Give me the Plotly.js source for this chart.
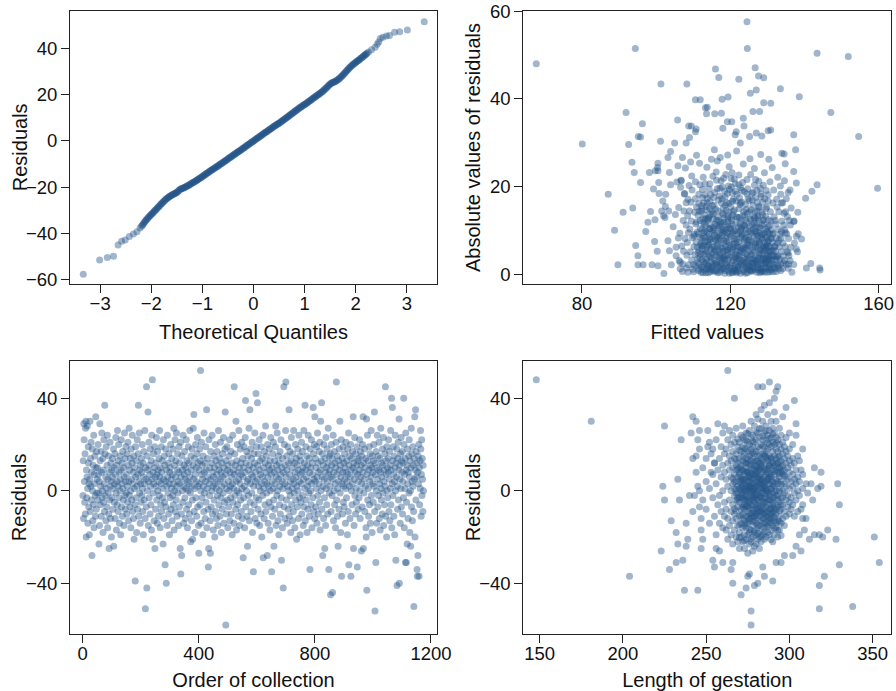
<!DOCTYPE html>
<html><head><meta charset="utf-8">
<script src="https://cdn.plot.ly/plotly-3.0.1.min.js"></script>
<style>html,body{margin:0;padding:0;background:#fff}#chart{width:896px;height:691px}</style>
</head><body><div id="chart"></div><script>
// Normal Q-Q plot: [theoretical quantile, residual]
const qqPoints = [[-3.33,-57.6],[-3.01,-51.4],[-2.86,-50.4],[-2.74,-49.8],[-2.65,-44.9],[-2.58,-43.3],[-2.51,-42.8],[-2.43,-41.3],[-2.35,-40.2],[-2.28,-39.2],[-2.22,-37.6],
[-2.19,-36.8],[-2.16,-36.0],[-2.13,-35.0],[-2.10,-34.2],[-2.07,-33.4],[-2.04,-32.6],[-2.01,-32.0],[-1.98,-31.3],[-1.95,-30.6],[-1.92,-29.9],[-1.89,-29.2],[-1.86,-28.5],[-1.83,-27.8],[-1.80,-27.1],[-1.77,-26.4],[-1.74,-25.8],[-1.71,-25.1],[-1.68,-24.6],[-1.65,-24.1],[-1.62,-23.7],[-1.59,-23.3],[-1.56,-22.9],[-1.53,-22.6],[-1.50,-22.3],[-1.47,-21.6],[-1.44,-21.0],[-1.41,-20.7],[-1.38,-20.4],[-1.35,-20.1],[-1.32,-19.8],[-1.29,-19.4],[-1.26,-19.0],[-1.23,-18.6],[-1.20,-18.2],[-1.17,-17.8],[-1.14,-17.4],[-1.11,-17.0],[-1.08,-16.6],[-1.05,-16.1],[-1.02,-15.7],[-0.99,-15.2],[-0.96,-14.7],[-0.93,-14.3],[-0.90,-13.8],[-0.87,-13.3],[-0.84,-12.9],[-0.81,-12.4],[-0.78,-12.0],[-0.75,-11.6],[-0.72,-11.1],[-0.69,-10.7],[-0.66,-10.2],[-0.63,-9.8],[-0.60,-9.3],[-0.57,-8.9],[-0.54,-8.4],[-0.51,-7.9],[-0.48,-7.4],[-0.45,-7.0],[-0.42,-6.5],[-0.39,-6.1],[-0.36,-5.6],[-0.33,-5.1],[-0.30,-4.7],[-0.27,-4.2],[-0.24,-3.8],[-0.21,-3.3],[-0.18,-2.8],[-0.15,-2.3],[-0.12,-1.9],[-0.09,-1.4],[-0.06,-0.9],[-0.03,-0.5],[0,0],[0.03,0.5],[0.06,1.0],[0.09,1.4],[0.12,1.9],[0.15,2.4],[0.18,2.9],[0.21,3.3],[0.24,3.8],[0.27,4.2],[0.30,4.7],[0.33,5.2],[0.36,5.6],[0.39,6.1],[0.42,6.6],[0.45,7.0],[0.48,7.4],[0.51,7.8],[0.54,8.3],[0.57,8.8],[0.60,9.3],[0.63,9.8],[0.66,10.3],[0.69,10.8],[0.72,11.3],[0.75,11.8],[0.78,12.3],[0.81,12.8],[0.84,13.3],[0.87,13.8],[0.90,14.3],[0.93,14.7],[0.96,15.2],[0.99,15.6],[1.02,16.0],[1.05,16.5],[1.08,17.0],[1.11,17.5],[1.14,18.0],[1.17,18.5],[1.20,19.0],[1.23,19.4],[1.26,19.9],[1.29,20.4],[1.32,20.9],[1.35,21.4],[1.38,22.0],[1.41,22.6],[1.44,23.3],[1.47,24.0],[1.50,24.6],[1.53,25.0],[1.56,25.3],[1.59,25.6],[1.62,26.0],[1.65,26.5],[1.68,27.0],[1.71,27.6],[1.74,28.3],[1.77,29.0],[1.80,29.7],[1.83,30.5],[1.86,31.2],[1.89,31.9],[1.92,32.5],[1.95,33.1],[1.98,33.6],[2.01,34.1],[2.04,34.6],[2.07,35.1],[2.10,35.7],[2.13,36.2],[2.16,36.8],[2.19,37.3],[2.22,37.9],
[-2.175,-36.4],[-2.145,-35.5],[-2.115,-34.6],[-2.085,-33.8],[-2.055,-33.0],[-2.025,-32.3],[-1.995,-31.6],[-1.965,-31.0],[-1.935,-30.2],[-1.905,-29.6],[-1.875,-28.8],[-1.845,-28.2],[-1.815,-27.4],[-1.785,-26.8],[-1.755,-26.1],[-1.725,-25.4],[-1.695,-24.9],[-1.665,-24.3],[-1.635,-23.9],[-1.605,-23.5],[-1.575,-23.1],[-1.545,-22.8],[-1.515,-22.4],[-1.485,-21.9],[-1.455,-21.3],[-1.425,-20.8],[-1.395,-20.6],[-1.365,-20.2],[-1.335,-19.9],[-1.305,-19.6],[-1.275,-19.2],[-1.245,-18.8],[-1.215,-18.4],[-1.185,-18.0],[-1.155,-17.6],[-1.125,-17.2],[-1.095,-16.8],[-1.065,-16.3],[-1.035,-15.9],[-1.005,-15.5],[-0.975,-15.0],[-0.945,-14.5],[-0.915,-14.0],[-0.885,-13.6],[-0.855,-13.1],[-0.825,-12.7],[-0.795,-12.2],[-0.765,-11.8],[-0.735,-11.3],[-0.705,-10.9],[-0.675,-10.5],[-0.645,-10.0],[-0.615,-9.6],[-0.585,-9.1],[-0.555,-8.6],[-0.525,-8.2],[-0.495,-7.7],[-0.465,-7.2],[-0.435,-6.8],[-0.405,-6.3],[-0.375,-5.8],[-0.345,-5.4],[-0.315,-4.9],[-0.285,-4.5],[-0.255,-4.0],[-0.225,-3.5],[-0.195,-3.1],[-0.165,-2.6],[-0.135,-2.1],[-0.105,-1.6],[-0.075,-1.2],[-0.045,-0.7],[-0.015,-0.2],[0.015,0.2],[0.045,0.7],[0.075,1.2],[0.105,1.7],[0.135,2.1],[0.165,2.6],[0.195,3.1],[0.225,3.6],[0.255,4.0],[0.285,4.5],[0.315,4.9],[0.345,5.4],[0.375,5.9],[0.405,6.3],[0.435,6.8],[0.465,7.2],[0.495,7.6],[0.525,8.1],[0.555,8.6],[0.585,9.0],[0.615,9.6],[0.645,10.0],[0.675,10.5],[0.705,11.0],[0.735,11.5],[0.765,12.0],[0.795,12.5],[0.825,13.0],[0.855,13.5],[0.885,14.0],[0.915,14.5],[0.945,14.9],[0.975,15.4],[1.005,15.8],[1.035,16.3],[1.065,16.7],[1.095,17.2],[1.125,17.7],[1.155,18.2],[1.185,18.7],[1.215,19.2],[1.245,19.7],[1.275,20.1],[1.305,20.6],[1.335,21.1],[1.365,21.7],[1.395,22.3],[1.425,22.9],[1.455,23.6],[1.485,24.3],[1.515,24.8],[1.545,25.2],[1.575,25.5],[1.605,25.8],[1.635,26.2],[1.665,26.7],[1.695,27.3],[1.725,27.9],[1.755,28.6],[1.785,29.3],[1.815,30.1],[1.845,30.8],[1.875,31.5],[1.905,32.2],[1.935,32.8],[1.965,33.3],[1.995,33.9],[2.025,34.4],[2.055,34.9],[2.085,35.4],[2.115,35.9],[2.145,36.5],[2.175,37.0],[2.205,37.6],
[2.25,38.4],[2.31,39.4],[2.38,40.5],[2.42,41.8],[2.45,42.7],[2.48,44.2],[2.53,44.8],[2.60,45.3],[2.66,45.6],[2.76,46.9],[2.86,47.2],[3.01,47.9],[3.34,51.5]];

// [fitted value, |residual|]
const fittedAbsPoints = [[67.7,48.0],[94.4,51.5],[80.1,29.7],[124.5,57.6],[124.6,51.5],[143.4,50.4],[151.8,49.7],[147.1,36.9],[154.6,31.4],[159.7,19.6],[138.6,40.5],[133.5,42.3],[116.0,46.8],[116.9,44.9],[122.3,44.5],[126.7,47.1],[127.6,45.2],[129.0,44.8],[101.3,43.4],[108.3,43.4],[91.9,36.9],[96.3,34.3],[95.8,31.3],[95.2,31.4],[92.6,29.6],[93.5,25.5],[94.1,23.2],[95.8,20.9],[98.2,23.2],[87.1,18.2],[91.1,14.1],[93.7,15.1],[88.8,10.0],[89.7,2.1],[95.1,2.1],[95.1,4.2],[94.5,6.5],[97.2,9.7],[97.8,11.8],[98.5,14.3],[99.3,19.4],[98.9,2.1],[100.5,1.9],[102.1,0.1],[100.3,5.2],[99.6,7.4],[99.7,12.4],[100.5,23.6],[100.5,25.3],[101.2,30.3],[102.0,13.3],[102.5,15.4],[102.6,18.2],[103.9,20.4],[103.9,28.0],[105.0,29.9],[105.8,35.2],[108.1,29.9],[108.8,33.8],[110.6,32.5],[110.6,39.8],[111.9,39.8],[113.8,38.1],[113.6,36.6],[115.8,36.6],[117.6,36.7],[117.8,39.9],[119.4,40.4],[118.0,33.3],[119.2,34.8],[120.4,34.8],[121.6,32.5],[123.5,35.6],[123.7,33.8],[122.7,29.9],[121.3,31.8],[125.4,41.3],[127.0,42.0],[126.1,37.1],[127.9,37.1],[129.0,39.1],[130.9,39.0],[130.2,32.7],[130.9,32.9],[127.0,32.2],[128.5,31.5],[125.2,31.4],[137.1,31.8],[137.6,28.4],[137.8,20.8],[134.8,25.2],[137.1,23.4],[133.9,27.6],[134.5,27.4],[135.6,18.6],[137.1,12.0],[134.8,9.4],[137.8,8.6],[139.2,8.0],[137.8,5.7],[135.7,2.3],[136.6,0.4],[140.3,17.3],[142.0,18.9],[143.4,20.4],[140.5,1.4],[141.7,2.4],[144.1,1.4],[144.2,0.9],[133.8,16.2],[134.5,13.9],[133.8,9.7],[132.4,4.0],[132.9,1.9],[135.6,4.8],
[96.5,2.1],[100.4,24.3],[99.8,23.6],[103.2,26.6],[103.6,23.2],[100.7,20.9],[100.8,18.4],[101.8,16.7],[101.5,14.4],[102.4,12.9],[103.4,14.4],[103.2,7.6],[103.6,5.3],[105.4,6.1],[105.4,4.2],[106.5,2.7],[106.8,21.3],[105.9,24.7],[107.1,26.6],[109.0,31.2],[109.5,33.8],[110.8,33.1],[113.3,38.0],[105.6,21.0],[106.6,19.8],[107.7,18.4],[108.1,16.3],[109.0,14.4],[104.6,10.8],[105.2,13.6],[104.1,2.1],[106.0,8.2],
[106.2,3.1],[106.4,9.3],[106.1,15.2],[106.7,21.4],[106.5,1.2],[106.9,6.4],[107.3,12.2],[107.1,0.6],[107.6,18.3],[107.2,2.3],[107.8,8.1],[107.5,14.4],[107.9,24.2],[107.4,5.2],[108.3,4.3],[108.1,11.2],[108.6,17.1],[108.2,1.4],[108.4,7.2],[108.8,2.1],[108.5,13.3],[108.9,20.2],[108.7,9.4],[108.6,0.4],[109.2,5.1],[109.1,10.3],[109.4,16.4],[109.3,25.6],[109.6,3.2],[109.8,8.3],[109.5,12.1],[109.7,19.2],[109.9,1.1],[109.6,22.4],[110.2,6.2],[110.1,2.2],[110.4,14.1],[110.3,9.1],[110.6,17.2],[110.1,0.5],[110.5,4.4],[110.8,7.3],[110.7,11.4],[110.9,15.3],[110.6,21.1],[110.9,27.1],[111.2,2.6],[111.1,6.1],[111.4,9.2],[111.3,13.4],[111.5,18.2],[111.2,3.5],[111.7,1.1],[111.6,5.3],[111.8,8.4],[111.9,12.2],[111.5,16.1],[111.8,20.4],[111.7,25.3],[112.1,0.4],[112.3,3.3],[112.2,7.1],[112.4,10.2],[112.1,14.3],[112.5,17.4],[112.3,15.6],[112.6,1.6],[112.8,4.4],[112.7,6.5],[112.9,9.4],[112.6,12.6],[112.8,16.2],[112.5,19.3],[112.7,22.1],[113.1,2.4],[113.3,5.4],[113.2,8.3],[113.4,11.1],[113.1,13.5],[113.5,15.4],[113.2,18.1],[113.4,0.3],[113.6,3.4],[113.8,6.2],[113.7,9.6],[113.9,12.4],[113.6,14.6],[113.8,17.3],[113.7,24.4],[114.1,1.3],[114.3,4.1],[114.2,6.6],[114.4,10.4],[114.1,12.7],[114.5,16.6],[114.3,19.4],[114.6,0.5],[114.8,2.7],[114.7,5.6],[114.9,8.1],[114.6,11.3],[114.8,13.6],[114.5,20.6],[114.9,26.2],[115.2,1.7],[115.1,4.6],[115.4,7.4],[115.3,9.8],[115.1,14.2],[115.5,17.5],[115.3,22.3],[115.6,0.8],[115.8,3.2],[115.7,6.3],[115.9,11.5],[115.6,15.7],[115.8,18.6],[115.7,28.4],[116.2,2.1],[116.1,5.2],[116.4,8.5],[116.3,12.3],[116.1,14.8],[116.5,19.5],[116.2,23.3],[116.6,0.3],[116.8,3.9],[116.7,7.7],[116.9,10.6],[116.6,13.1],[116.8,16.9],[116.5,25.8],[117.1,1.5],[117.3,4.8],[117.2,9.2],[117.4,11.9],[117.1,17.8],[117.5,21.3],[117.3,26.6],[117.6,2.6],[117.8,5.9],[117.7,8.8],[117.9,13.9],[117.6,16.2],[117.8,19.9],[117.5,0.9],[118.1,3.6],[118.3,6.9],[118.2,10.1],[118.4,12.8],[118.1,15.1],[118.5,18.9],[118.2,1.2],[118.6,4.2],[118.8,8.1],[118.7,11.3],[118.9,14.5],[118.6,17.6],[118.8,22.7],[118.5,0.2],[119.1,2.3],[119.3,5.6],[119.2,9.4],[119.4,13.2],[119.1,16.3],[119.5,20.1],[119.3,27.2],[119.6,0.7],[119.8,3.8],[119.7,7.2],[119.9,10.5],[119.6,14.1],[119.8,19.3],[119.7,24.5],[120.1,1.9],[120.3,5.1],[120.2,8.6],[120.4,12.2],[120.1,15.4],[120.5,18.5],[120.2,21.8],[120.6,0.4],[120.8,3.1],[120.7,6.8],[120.9,9.9],[120.6,13.5],[120.8,17.1],[120.5,23.1],[121.1,1.3],[121.3,4.5],[121.2,7.9],[121.4,11.4],[121.1,14.6],[121.5,16.7],[121.3,20.6],[121.6,2.8],[121.8,6.1],[121.7,9.2],[121.9,12.9],[121.6,0.6],[121.8,18.2],[121.7,28.1],[122.1,3.5],[122.3,7.3],[122.2,10.7],[122.4,14.9],[122.1,1.6],[122.5,17.4],[122.3,22.6],[122.6,4.9],[122.8,8.4],[122.7,0.2],[122.9,12.1],[122.6,15.8],[122.8,19.7],[123.1,2.2],[123.3,5.8],[123.2,9.1],[123.4,13.4],[123.1,16.4],[123.5,25.1],[123.3,20.9],[123.6,0.9],[123.8,3.7],[123.7,7.5],[123.9,10.9],[123.6,14.3],[123.8,18.8],[124.1,1.4],[124.3,4.6],[124.2,8.2],[124.4,11.7],[124.1,15.9],[124.5,21.6],[124.6,0.3],[124.8,2.9],[124.7,6.4],[124.9,9.6],[124.6,13.8],[124.8,17.2],[124.7,19.5],[125.1,1.8],[125.3,5.2],[125.2,7.8],[125.4,12.6],[125.1,16.8],[125.5,22.7],[125.3,26.3],[125.6,0.6],[125.8,3.4],[125.7,9.3],[125.9,11.2],[125.6,14.7],[125.8,18.4],[126.1,2.5],[126.3,6.6],[126.2,10.2],[126.4,13.1],[126.1,15.7],[126.5,20.3],[126.6,1.1],[126.8,4.1],[126.7,7.1],[126.9,9.8],[126.6,14.2],[126.8,17.5],[126.5,24.1],[127.1,0.4],[127.3,3.2],[127.2,6.2],[127.4,8.7],[127.1,11.6],[127.5,13.3],[127.3,16.4],[127.2,19.1],[127.6,2.1],[127.8,4.8],[127.7,7.4],[127.9,9.4],[127.6,12.3],[127.8,15.2],[127.7,21.2],[128.1,1.2],[128.3,3.6],[128.2,5.4],[128.4,8.3],[128.1,10.5],[128.5,14.1],[128.3,18.3],[128.2,27.3],[128.6,0.5],[128.8,2.4],[128.7,4.4],[128.9,6.3],[128.6,9.1],[128.8,12.2],[128.7,16.4],[128.9,20.3],[129.1,1.3],[129.3,3.3],[129.2,5.3],[129.4,7.1],[129.1,11.4],[129.5,13.2],[129.3,17.2],[129.2,23.1],[129.6,2.3],[129.8,4.3],[129.7,6.4],[129.9,8.4],[129.6,10.3],[129.8,15.3],[129.7,19.1],[130.1,0.4],[130.3,1.4],[130.2,3.4],[130.4,5.1],[130.1,7.3],[130.5,9.2],[130.3,12.4],[130.2,18.1],[130.4,26.2],[130.6,2.2],[130.8,4.1],[130.7,6.2],[130.9,8.2],[130.6,11.1],[130.8,14.2],[130.7,21.1],[131.1,1.1],[131.3,3.1],[131.2,5.3],[131.4,7.2],[131.1,10.1],[131.5,16.2],[131.3,24.3],[131.6,0.5],[131.8,2.2],[131.7,4.1],[131.9,6.2],[131.6,9.3],[131.8,13.1],[131.7,19.2],[132.1,1.2],[132.3,3.3],[132.2,5.2],[132.4,8.1],[132.1,12.2],[132.5,17.1],[132.6,2.1],[132.8,4.2],[132.7,7.1],[132.9,10.2],[132.6,15.3],[132.8,22.1],[133.1,1.3],[133.3,3.4],[133.2,6.2],[133.4,9.1],[133.1,14.2],[133.5,20.1],[133.6,2.3],[133.8,5.1],[133.7,8.2],[133.9,12.1],[133.6,18.2],[134.1,1.2],[134.3,4.1],[134.2,7.1],[134.4,11.2],[134.1,16.3],[134.6,3.1],[134.8,6.2],[134.7,10.1],[134.9,14.2],[134.6,21.3],[135.1,2.2],[135.3,5.1],[135.2,9.2],[135.4,13.1],[135.1,17.2],[135.6,1.3],[135.8,4.2],[135.7,8.1],[135.9,12.2],[136.1,3.1],[136.3,6.1],[136.2,11.2],[136.4,15.1],[136.1,19.2],[137.1,2.2],[137.3,7.1],[137.2,12.1],[138.1,5.1],[138.3,9.2],[138.2,14.1],
[111.4,0.8],[112.9,2.9],[114.2,1.9],[113.3,4.7],[115.8,0.6],[116.4,2.7],[117.9,1.3],[118.3,3.9],[119.7,0.2],[120.4,2.6],[121.9,1.1],[122.4,3.4],[123.6,0.5],[124.9,2.1],[125.3,0.9],[126.7,3.1],[127.4,1.6],[128.9,0.7],[129.5,2.8],[130.6,0.9],[131.2,2.4],[112.4,5.8],[113.9,7.4],[115.1,6.1],[116.9,5.4],[117.3,7.9],[118.8,6.3],[119.1,8.6],[120.7,5.6],[121.5,7.1],[122.9,6.2],[123.2,8.8],[124.4,5.9],[125.8,7.3],[126.2,5.1],[127.9,6.8],[128.4,8.9],[129.1,6.1],[130.3,7.7],[131.6,5.5],[111.1,9.6],[112.7,11.8],[114.6,10.3],[115.4,12.6],[116.1,9.3],[117.6,11.4],[118.1,13.6],[119.5,10.9],[120.2,12.8],[121.3,9.9],[122.6,11.6],[123.9,13.2],[124.2,10.2],[125.6,12.4],[126.9,10.8],[127.3,12.9],[128.6,11.1],[129.8,9.7],[130.9,12.1],[113.6,1.2],[114.9,3.6],[116.2,4.2],[117.4,2.2],[118.9,1.7],[119.3,4.4],[120.9,0.7],[121.2,3.9],[122.1,1.9],[123.4,4.9],[124.7,1.2],[125.1,3.8],[126.3,1.4],[127.6,3.7],[128.2,2.2],[129.9,4.8],[130.1,2.9],[111.8,3.8],[112.2,1.6],[113.1,9.8],[114.4,8.4],[115.7,8.9],[116.6,6.9],[117.1,4.3],[118.4,9.7],[119.9,6.6],[120.1,10.3],[121.7,5.3],[122.2,9.2],[123.8,7.9],[124.6,6.8],[125.4,9.8],[126.5,8.6],[127.1,9.2],[128.8,5.8],[129.4,8.2],[130.7,5.2],[112.3,14.8],[113.8,16.2],[115.2,15.6],[116.7,14.4],[117.8,17.2],[118.6,15.7],[119.2,18.4],[120.6,16.6],[121.4,18.9],[122.7,16.3],[123.1,19.1],[124.3,14.8],[125.9,16.9],[126.1,18.7],[127.7,15.4],[128.3,17.7],[129.6,14.9],[113.2,20.6],[114.7,18.1],[116.3,21.4],[117.2,19.6],[118.2,21.9],[119.6,16.1],[120.3,19.9],[121.1,21.7],[122.3,20.4],[124.5,18.3],[126.8,21.6],[128.1,19.6],[130.2,16.7],[114.1,0.3],[115.3,2.2],[117.2,0.4],[118.6,2.4],[120.2,1.2],[121.7,0.3],[123.3,1.9],[124.1,0.2],[126.1,0.8],[127.9,0.3],[129.3,0.4],[131.9,1.5],[132.4,0.6],[110.6,1.9],[111.3,4.9],[110.2,8.7],[110.9,11.9],[111.6,14.4],[132.1,6.4],[132.7,3.7],[131.4,9.1],[132.3,11.4],[133.1,7.7],[133.6,0.8],[134.3,2.6],[119.4,11.9],[120.8,14.3],[122.4,12.9],[123.7,11.1],[125.2,14.2],[126.4,11.6],[127.2,14.4],[128.7,13.6],[118.7,5.3],[117.7,10.1],[116.3,11.1],[115.4,13.7],[114.4,14.9],[113.4,12.6],[112.4,8.1],[111.9,6.7],[121.9,4.3],[122.8,2.4],[124.2,3.3],[125.7,2.6],[126.9,2.7],[128.4,1.1],[129.7,3.6],[130.4,1.7],
[111.6,2.2],[112.3,6.4],[113.1,0.9],[113.7,5.1],[114.3,9.1],[114.8,1.4],[115.5,4.9],[116.0,7.8],[116.8,1.9],[117.4,6.2],[117.9,9.4],[118.5,3.3],[119.0,7.4],[119.6,1.6],[120.3,4.1],[120.9,8.1],[121.4,2.1],[122.0,6.4],[122.7,9.9],[123.3,3.1],[123.9,6.1],[124.5,1.7],[125.0,8.4],[125.6,4.4],[126.2,2.3],[126.8,6.1],[127.5,0.9],[128.0,4.6],[128.7,7.9],[129.3,2.6],[129.9,6.7],[130.5,3.8],[131.1,8.1],
[111.9,10.4],[112.8,8.6],[113.5,2.7],[114.0,6.8],[114.6,3.9],[115.3,10.6],[115.9,2.4],[116.5,6.4],[117.0,10.9],[117.7,3.6],[118.3,7.6],[118.9,10.2],[119.4,3.2],[120.0,5.9],[120.6,9.4],[121.2,0.9],[121.8,7.8],[122.5,4.1],[123.0,10.6],[123.6,5.6],[124.2,2.6],[124.8,7.7],[125.4,0.8],[126.0,5.4],[126.6,9.6],[127.3,2.4],[127.9,7.2],[128.5,3.2],[129.1,9.3],[129.7,1.3],[130.3,6.3],[130.9,3.4],
[112.0,4.6],[112.6,0.3],[113.2,7.4],[113.9,1.9],[114.5,7.9],[115.0,0.9],[115.7,5.6],[116.3,0.8],[116.9,8.3],[117.5,3.1],[118.0,5.2],[118.7,0.8],[119.2,5.4],[119.8,9.1],[120.4,0.3],[121.0,6.2],[121.6,3.6],[122.2,0.7],[122.8,5.3],[123.5,2.7],[124.0,9.3],[124.6,4.3],[125.2,6.6],[125.9,1.6],[126.4,3.6],[127.0,7.9],[127.6,5.6],[128.2,0.6],[128.9,3.6],[129.5,5.7],[130.1,9.6],[130.8,0.5],[131.4,4.2],
[113.0,11.4],[114.2,12.9],[115.6,10.1],[116.9,12.3],[118.1,11.8],[119.3,12.6],[120.5,11.3],[121.7,13.1],[122.9,10.4],[124.1,12.3],[125.3,10.9],[126.6,12.8],[127.8,10.6],[129.0,12.4],[130.2,10.8]];

// Residuals listed in order of collection (1st, 2nd, ... 1174th observation)
const orderResiduals = [
-2,13,-12,29,22,4,-5,16,-10,27, 30,-20,9,-3,6,28,1,-14,19,12, -7,3,-19,5,30,-9,14,2,21,-4, 8,-28,18,0,-13,11,-6,24,-16,7, 3,15,-2,-11,32,10,-8,17,-1,5,
10,-4,20,7,-1,-23,4,-15,29,13, -6,2,17,-11,8,25,-3,0,14,-18, 9,-5,22,3,-9,37,16,-2,6,-13, 19,1,-7,11,24,-16,5,-1,15,-10, -25,8,-4,21,2,-12,12,4,-20,9,
-3,6,14,-8,1,18,-24,10,-5,3, 16,-12,7,23,-1,-17,11,4,-6,26, 2,-9,13,20,-3,8,-14,0,15,5, -19,9,22,-7,3,12,-11,17,1,-4, 10,-15,6,25,-2,14,-8,4,19,-1,
7,-10,16,2,-5,21,11,-13,4,27, -2,9,-7,14,0,-16,18,5,-4,12, 24,-9,3,8,-12,15,-21,1,10,-6, -39,19,6,-3,13,-18,2,22,-8,7, 16,37,-11,4,25,-1,9,-14,11,3,
-5,14,8,-2,20,1,-9,12,-19,6, 17,-4,3,26,-12,-51,10,5,-7,45, -42,15,0,9,34,-15,4,21,-3,11, 7,-10,18,2,-6,13,-17,24,5,48, -21,8,-1,16,3,-13,10,19,-25,6,
-8,12,2,23,-4,7,-14,17,0,9, -11,4,14,-2,26,6,-16,10,-6,3, 19,-9,8,13,-3,1,-23,22,5,-12, 15,-5,11,-32,4,18,-7,-40,9,2, -15,24,6,-1,12,-10,16,3,-19,8,
-3,10,20,-8,5,1,14,-13,7,-2, 18,-6,3,27,-17,11,0,22,-9,6, 13,-4,25,2,-11,9,16,-1,4,-15, 8,19,-7,12,3,-25,21,-36,6,-10, -28,15,0,9,-5,24,2,-14,11,7,
17,-3,5,-12,10,1,22,-8,13,4, -16,8,0,19,-6,12,3,-10,26,6, -1,-22,15,9,-13,2,18,-4,-21,11, 27,5,33,-9,14,1,-18,7,20,-3, 10,4,-11,16,23,-7,2,12,-15,-27,
9,3,18,-6,13,52,0,-14,21,7, -3,11,5,-19,15,2,-9,25,8,-1, 12,-12,4,19,-5,9,35,-16,1,14, 6,-8,-33,-25,22,3,-2,10,-13,-27, 17,5,-7,12,0,24,-10,8,2,-17,
6,15,-4,10,-20,3,20,-9,13,1, -12,7,17,-2,4,-15,11,26,-6,9, 0,14,-11,5,21,-3,8,-18,2,12, -8,16,6,-1,23,-14,10,3,-5,18, 34,7,-58,13,-10,1,19,-4,9,-16,
11,4,-7,15,0,22,-13,8,2,-3, 17,-10,6,12,-19,3,24,-5,9,1, -14,45,7,16,-2,11,-8,30,4,-17, 13,0,20,-6,8,-11,5,26,-1,10, -15,3,18,-4,12,7,-9,21,1,-12,
14,6,-29,10,-3,19,2,-16,8,23, 39,-7,12,0,17,-11,4,-24,15,5, -2,9,27,-13,11,35,-5,3,18,-9, 7,14,-1,21,-18,6,10,-35,2,16, -6,12,25,-12,4,8,42,-3,19,-14,
5,38,11,-8,16,2,-4,22,9,-15, 13,0,7,-10,19,3,-20,14,6,-2, 24,-29,10,1,-12,17,4,-6,12,28, -9,8,15,-1,3,-28,20,6,-14,11, 2,-5,18,9,-17,13,0,23,-7,7,
-35,10,4,-11,16,1,21,-4,-24,8, 13,-8,3,19,28,-15,6,11,-2,25, 0,9,-13,15,5,-19,12,-6,2,17, -10,7,22,-3,-30,10,4,-16,14,1, -42,8,45,-7,20,3,-12,11,26,47,
6,-4,15,9,-14,2,19,-8,12,0, 35,-11,7,17,-2,4,-18,13,23,-6, 10,1,-13,16,5,-9,26,3,-1,12, -16,8,20,-4,6,14,-21,2,11,-7, 18,0,9,-12,24,4,-3,15,-19,7,
13,-5,3,21,-10,8,17,-2,10,-15, 5,26,-7,12,1,37,-13,9,19,-4, 6,15,-18,2,11,-8,24,4,-1,14, -11,8,-34,18,0,10,-6,22,3,-16, 12,7,-3,36,16,-9,5,20,-12,32,
4,14,-7,10,1,19,-14,6,25,-2, 12,-10,8,3,17,-5,21,-17,9,30, 0,13,38,-8,6,16,-28,2,11,-12, 20,5,-3,-25,14,8,-15,23,1,10, -6,18,4,-10,12,27,7,-34,15,-1,
9,2,16,-45,6,-9,20,11,-2,14, -44,5,24,-13,8,0,17,-6,12,3, -16,10,21,47,-4,7,15,-11,1,-24, 13,4,-8,18,9,30,-1,11,-18,6, 22,-37,3,14,-10,8,19,-5,2,12,
-7,16,5,10,-14,1,21,8,-3,13, 4,-19,18,7,-9,25,-32,11,2,15, -12,6,20,-37,9,0,14,-6,3,17, 10,32,-25,12,-15,5,23,-2,8,-10, 16,1,-5,11,19,-33,7,13,-8,4,
14,-3,9,22,0,-12,17,6,11,-26, 3,15,-7,20,8,32,-25,12,-1,5, 18,-9,10,2,14,-16,-20,31,-43,7, 24,-4,13,1,-11,9,19,-6,4,16, -14,11,6,26,-2,10,-18,15,3,8,
-5,13,20,2,34,-9,-52,12,7,-31, 17,0,-14,10,24,5,-7,15,-2,9, 21,-12,3,14,-17,8,27,1,-4,12, 6,-10,18,11,-1,23,-15,4,9,-6, 16,2,45,-11,13,7,-20,19,0,10,
-3,14,8,22,-9,5,17,-13,11,1, 26,-6,9,40,-16,3,36,13,-2,19, 7,-11,15,4,-19,10,24,0,-30,12, 6,18,-41,2,-8,14,21,-4,9,31, -40,11,5,-14,16,1,23,-7,13,8,
17,-10,4,12,-3,40,20,-16,7,1, 14,-31,25,9,-31,-5,11,-23,18,3, -12,8,15,-1,22,6,-18,13,0,-24, 10,27,-7,16,4,-13,19,2,11,-9, -50,14,5,32,-20,9,35,-4,17,6,
12,-34,-37,8,-28,15,3,20,-37,10, -6,13,1,26,18,-11,7,22,-2,14, 5,-9,11,0];

// [length of gestation (days), residual]
const gestationPoints = [[148,48],[181,30],[204,-37],[223,-26],[225,28],[224,2],[225,-4],[229,-13],[232,-18],[233,-23],[228,-34],[232,-31],[236,-30],[237,-43],[245,-43],[235,22],[233,5],[234,-4],[238,-14],[238,-24],[239,-21],[242,32],[244,30],[241,25],[245,22],[246,26],[244,15],[244,8],[245,2],[240,-2],[243,-2],[246,-7],[247,-12],[247,-17],[248,-21],[247,-25],[251,26],[251,19],[253,16],[255,12],[253,8],[254,-30],[255,-33],[256,-25],[258,-26],[260,-31],[257,29],[261,28],[263,52],[267,40],[266,-31],[265,-34],[266,-40],[271,-45],[274,-42],[276,-36],[275,-37],[279,-41],[281,-40],[284,-33],[285,-37],[290,-39],[292,-31],[277,-52],[277,-58],[288,47],[284,45],[281,45],[293,45],[292,43],[291,40],[303,39],[298,36],[296,32],[304,29],[304,24],[300,25],[308,18],[306,13],[307,9],[315,10],[319,8],[313,3],[317,1],[319,2],[329,3],[330,-6],[311,-1],[314,-4],[307,-8],[308,-12],[309,-17],[306,-19],[312,-21],[315,-19],[318,-19],[320,-20],[323,-17],[328,-21],[304,-24],[307,-26],[302,-28],[321,-37],[318,-41],[318,-51],[330,-32],[338,-50],[351,-20],[354,-31],[295,-31],[297,-28],
[242,14],[242,-9],[246,0],[246,18],[248,-4],[248,10],[250,4],[250,-8],[250,14],[252,-14],[252,21],[252,1],[254,7],[254,-3],[254,18],[255,-11],[255,12],[256,3],[256,-19],[256,22],[257,-6],[257,9],[258,14],[258,-2],[258,-14],[259,6],[259,-9],[259,19],[260,0],[260,11],[260,-16],[260,25],[261,-5],[261,8],[261,16],[261,-11],
[262,-8],[262,5],[262,18],[262,-17],[263,2],[263,-12],[263,12],[263,22],[263,-21],[264,-4],[264,9],[264,-15],[264,15],[264,26],[265,0],[265,-9],[265,6],[265,13],[265,-19],[265,20],[266,3],[266,-6],[266,-13],[266,10],[266,17],[266,-23],[266,24],[267,-2],[267,7],[267,-10],[267,14],[267,-17],[267,21],[267,1],
[268,4],[268,-4],[268,9],[268,-12],[268,16],[268,-20],[268,11],[268,-1],[268,27],[269,-7],[269,2],[269,12],[269,-15],[269,6],[269,19],[269,-22],[269,-3],[270,1],[270,-5],[270,8],[270,-11],[270,14],[270,-18],[270,21],[270,4],[270,-25],[270,10],
[271,-3],[271,6],[271,-8],[271,11],[271,-14],[271,17],[271,0],[271,24],[271,-20],[271,3],[272,2],[272,-6],[272,9],[272,-10],[272,13],[272,-16],[272,19],[272,-1],[272,5],[272,-22],[272,28],
[273,-4],[273,7],[273,-8],[273,12],[273,0],[273,-13],[273,16],[273,-19],[273,22],[273,3],[273,-25],[274,1],[274,-2],[274,5],[274,-7],[274,10],[274,-11],[274,14],[274,-16],[274,18],[274,8],[274,-21],[274,25],
[275,-3],[275,4],[275,-9],[275,8],[275,12],[275,-14],[275,0],[275,17],[275,-19],[275,21],[275,6],[275,-27],[276,2],[276,-5],[276,6],[276,-10],[276,11],[276,-13],[276,15],[276,-18],[276,20],[276,-1],[276,26],[276,-23],
[277,-2],[277,3],[277,-6],[277,9],[277,-12],[277,13],[277,1],[277,-17],[277,18],[277,-22],[277,23],[277,30],[278,0],[278,-4],[278,5],[278,-8],[278,10],[278,-11],[278,14],[278,-15],[278,19],[278,7],[278,-20],[278,24],[278,-26],
[279,3],[279,-3],[279,7],[279,-9],[279,11],[279,-13],[279,16],[279,1],[279,-18],[279,21],[279,-24],[279,28],[280,-1],[280,4],[280,-6],[280,8],[280,-10],[280,13],[280,-14],[280,17],[280,2],[280,-19],[280,22],[280,-23],[280,33],
[281,2],[281,-4],[281,6],[281,-8],[281,10],[281,-12],[281,15],[281,-16],[281,19],[281,0],[281,-21],[281,25],[281,31],[282,-2],[282,5],[282,-7],[282,9],[282,-11],[282,12],[282,-15],[282,18],[282,3],[282,-20],[282,23],[282,-25],
[283,1],[283,-3],[283,4],[283,-9],[283,11],[283,-13],[283,14],[283,-17],[283,20],[283,7],[283,27],[283,-22],[283,35],[284,-1],[284,3],[284,-6],[284,8],[284,-10],[284,13],[284,-14],[284,16],[284,0],[284,-19],[284,22],[284,30],
[285,2],[285,-5],[285,6],[285,-8],[285,10],[285,-12],[285,15],[285,-16],[285,19],[285,25],[285,-21],[285,37],[286,-3],[286,4],[286,-7],[286,9],[286,-11],[286,12],[286,1],[286,-15],[286,17],[286,22],[286,-20],[286,28],
[287,0],[287,5],[287,-4],[287,8],[287,-9],[287,13],[287,-13],[287,18],[287,24],[287,-18],[287,33],[288,-2],[288,3],[288,-6],[288,7],[288,-10],[288,11],[288,15],[288,-14],[288,20],[288,-19],[288,26],[288,38],
[289,1],[289,-4],[289,6],[289,-8],[289,10],[289,-12],[289,14],[289,19],[289,-17],[289,23],[289,30],[290,-1],[290,4],[290,-5],[290,9],[290,-11],[290,12],[290,17],[290,-15],[290,21],[290,-22],[290,27],
[291,2],[291,-3],[291,7],[291,-9],[291,11],[291,15],[291,-13],[291,20],[291,-19],[291,25],[291,34],[292,0],[292,5],[292,-6],[292,9],[292,-10],[292,14],[292,18],[292,-16],[292,23],[292,30],
[293,-2],[293,3],[293,-7],[293,8],[293,12],[293,-13],[293,17],[293,-20],[293,22],[294,1],[294,6],[294,-5],[294,10],[294,-11],[294,15],[294,20],[294,-17],[294,27],
[295,-3],[295,4],[295,8],[295,-8],[295,13],[295,-14],[295,18],[295,24],[296,0],[296,7],[296,-6],[296,11],[296,-12],[296,16],[296,21],[297,-1],[297,3],[297,9],[297,-9],[297,14],[297,-15],[297,19],
[298,2],[298,6],[298,-4],[298,12],[298,-11],[298,17],[298,23],[299,-2],[299,5],[299,10],[299,-7],[299,15],[300,1],[300,8],[300,-5],[300,13],[300,-10],[300,18],[301,-3],[301,4],[301,11],[301,-8],
[302,2],[302,7],[302,-6],[302,14],[302,20],[303,-1],[303,5],[303,12],[303,-11],[304,3],[304,-4],[304,9],[305,0],[305,6],[305,-9],[305,15],[306,4],[306,-2],[308,1],[308,-6],[308,7],[310,3],[310,-12],
[266,5.3],[267,-7.8],[268,13.6],[269,-1.2],[270,17.4],[271,-10.6],[272,3.9],[273,-15.1],[274,21.7],[275,8.2],[276,-4.4],[277,15.8],[278,-13.3],[279,0.7],[280,10.6],[281,-18.4],[282,6.1],[283,-2.7],[284,19.3],[285,-9.9],[286,14.6],[287,-0.8],[288,-12.5],[289,4.4],[290,1.9],[291,-16.2],[292,11.7],[293,-3.8],[294,7.3],[295,-6.1],
[268,-8.7],[269,9.3],[270,-14.6],[271,4.8],[272,-3.2],[273,18.4],[274,-6.3],[275,13.4],[276,0.9],[277,-9.7],[278,16.6],[279,-2.2],[280,7.4],[281,12.8],[282,-5.6],[283,2.6],[284,-11.8],[285,9.1],[286,-1.4],[287,20.6],[288,5.8],[289,-7.3],[290,12.2],[291,-0.6],[292,-8.1],[293,4.1],[294,-13.4],[295,10.3],[296,-2.9],[297,6.4],
[267,3.8],[268,0.6],[269,-4.1],[270,6.7],[271,1.4],[272,-12.3],[273,8.6],[274,-0.4],[275,-6.8],[276,4.3],[277,7.7],[278,-1.8],[279,12.6],[280,-3.6],[281,5.4],[282,15.2],[283,-8.8],[284,1.3],[285,3.7],[286,-5.2],[287,9.6],[288,-3.9],[289,14.3],[290,-9.4],[291,3.3],[292,-2.1],[293,9.9],[294,-0.2],[295,2.8],[296,8.4],
[269,22.4],[270,-20.3],[272,23.1],[273,-21.6],[274,-14.2],[275,24.6],[276,-16.7],[277,-20.8],[278,21.3],[279,-17.4],[280,25.3],[281,-14.9],[282,26.8],[283,-19.6],[284,23.7],[285,-17.8],[286,25.9],[287,-15.6],[288,22.6],[289,-21.1],[290,24.4],[291,-11.7],[292,20.8],[293,-17.1],[294,12.4],[295,-19.3],
[271,9.2],[272,14.8],[273,-2.6],[274,11.9],[275,-11.3],[276,-7.4],[277,5.6],[278,-6.6],[279,-11.1],[280,-7.7],[281,8.7],[282,-9.1],[283,10.3],[284,-4.8],[285,15.9],[286,7.1],[287,-11.4],[288,10.9],[289,-13.8],[290,-6.2],[291,8.3],[292,-13.7],[293,14.6],[294,-8.6],
[276,2.2],[277,-0.3],[278,3.4],[279,-4.7],[280,0.3],[281,-6.3],[282,9.7],[283,-0.9],[284,4.7],[285,-3.3],[286,0.2],[287,2.9],[288,-7.9],[289,0.9],[280,-1.6],[279,5.9],[278,-9.8],[277,11.2],[276,-12.1],[275,1.8],[274,-3.7],[273,4.6],[272,-7.2],[271,-1.7],[270,-2.9],
[282,-2.9],[283,4.9],[284,-7.6],[285,1.1],[286,-9.3],[287,5.2],[288,-1.2],[289,7.1],[290,-3.2],[281,3.1],[280,-10.8],[279,8.9],[278,-3.1],[277,1.6],[276,6.8],[275,-4.2],[274,2.1],[273,-6.1],[272,0.3],[281,-9.2],[283,12.1],[285,-14.1],[287,13.9],[289,-10.2],[291,-7.6]];

const markerColor = 'rgb(36,86,136)';
function trace(xs, ys, xa, ya) {
  return {type: 'scatter', mode: 'markers', x: xs, y: ys,
    xaxis: xa, yaxis: ya, hoverinfo: 'skip', showlegend: false,
    marker: {color: markerColor, size: 7, opacity: 0.43, line: {width: 0}}};
}
function axis(domain, range, tickvals, anchor, title, isX) {
  const a = {domain: domain, range: range, tickmode: 'array', tickvals: tickvals, anchor: anchor,
    showline: true, mirror: true, linecolor: '#222', linewidth: 1,
    ticks: 'outside', ticklen: 8, tickwidth: 1, tickcolor: '#222',
    showgrid: false, zeroline: false, automargin: false, fixedrange: true,
    tickfont: {size: 18.5, color: '#111'},
    title: {text: title, font: {size: 20, color: '#111'}}};
  if (isX) { a.ticklabelstandoff = -5; a.title.standoff = 11; }
  return a;
}
const W = 896, H = 691;
const colL = [70 / W, 437 / W], colR = [523.3 / W, 891.3 / W];
const rowT = [(H - 284) / H, (H - 11.3) / H], rowB = [(H - 633.7) / H, (H - 361) / H];

const data = [
  trace(qqPoints.map(p => p[0]), qqPoints.map(p => p[1]), 'x', 'y'),
  trace(fittedAbsPoints.map(p => p[0]), fittedAbsPoints.map(p => p[1]), 'x2', 'y2'),
  trace(orderResiduals.map((r, i) => i + 1), orderResiduals, 'x3', 'y3'),
  trace(gestationPoints.map(p => p[0]), gestationPoints.map(p => p[1]), 'x4', 'y4')
];
function yTitle(text, px, py) {
  return {text: text, xref: 'paper', yref: 'paper', x: px / W, y: (H - py) / H,
    xanchor: 'center', yanchor: 'middle', textangle: -90, showarrow: false,
    font: {size: 20, color: '#111'}};
}
const layout = {
  width: W, height: H, margin: {l: 0, r: 0, t: 0, b: 0},
  paper_bgcolor: '#fff', plot_bgcolor: '#fff',
  font: {family: '"Liberation Sans", Arial, Helvetica, sans-serif', color: '#111'},
  xaxis: axis(colL, [-3.59, 3.59], [-3, -2, -1, 0, 1, 2, 3], 'y', 'Theoretical Quantiles', true),
  yaxis: axis(rowT, [-61.8, 56.0], [-60, -40, -20, 0, 20, 40], 'x', '', false),
  xaxis2: axis(colR, [64.2, 163.4], [80, 120, 160], 'y2', 'Fitted values', true),
  yaxis2: axis(rowT, [-2.28, 60], [0, 20, 40, 60], 'x2', '', false),
  xaxis3: axis(colL, [-43.7, 1220.7], [0, 400, 800, 1200], 'y3', 'Order of collection', true),
  yaxis3: axis(rowB, [-61.8, 56.1], [-40, 0, 40], 'x3', '', false),
  xaxis4: axis(colR, [140.2, 361.2], [150, 200, 250, 300, 350], 'y4', 'Length of gestation', true),
  yaxis4: axis(rowB, [-61.8, 56.1], [-40, 0, 40], 'x4', '', false),
  annotations: [
    yTitle('Residuals', 19.5, 147.7),
    yTitle('Absolute values of residuals', 473, 148),
    yTitle('Residuals', 19, 497.3),
    yTitle('Residuals', 473, 497.3)
  ]
};
Plotly.newPlot('chart', data, layout, {staticPlot: true, displayModeBar: false});
</script></body></html>
